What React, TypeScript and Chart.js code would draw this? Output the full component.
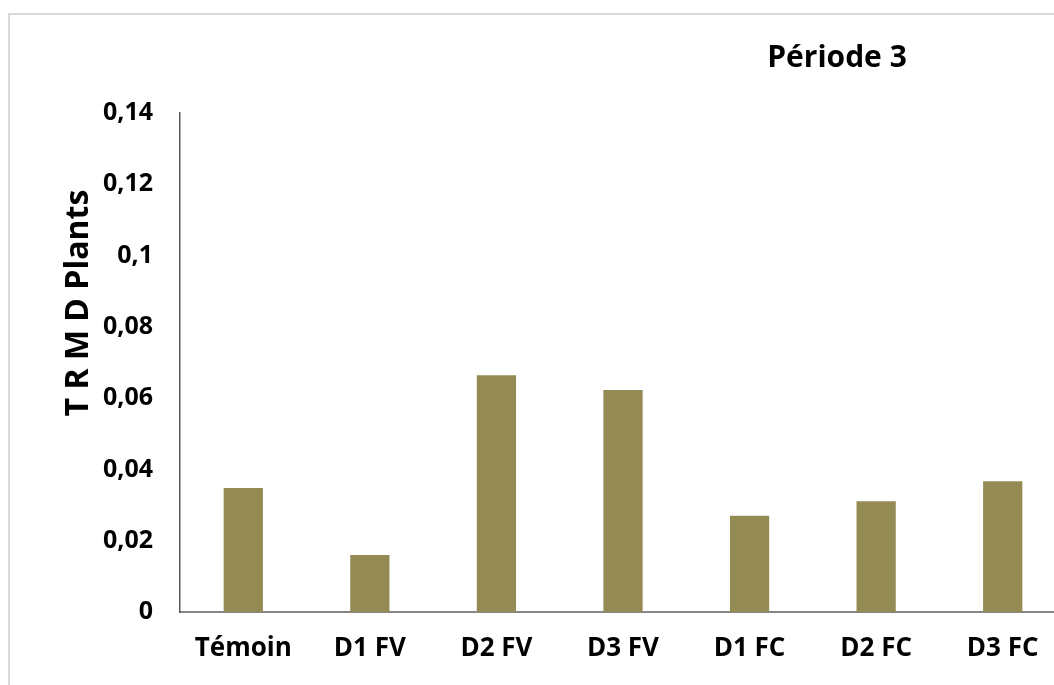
import React, { useEffect, useRef } from "react";
import { Chart, registerables } from "chart.js";

Chart.register(...registerables);

const categories = ["Témoin", "D1 FV", "D2 FV", "D3 FV", "D1 FC", "D2 FC", "D3 FC"];
const values = [0.0348, 0.016, 0.0664, 0.0623, 0.027, 0.0311, 0.0367];
const yTickLabels = ["0", "0,02", "0,04", "0,06", "0,08", "0,1", "0,12", "0,14"];
const chartTitle = "Période 3";
const yAxisTitle = "T R M D Plants";

const FONT = "'Open Sans', sans-serif";

const annotations = {
  id: "annotations",
  afterDraw(chart: any) {
    const ctx = chart.ctx;
    ctx.save();
    // outer frame
    ctx.strokeStyle = "#d9d9d9";
    ctx.lineWidth = 2;
    ctx.beginPath();
    ctx.moveTo(9, 2000);
    ctx.lineTo(9, 14);
    ctx.lineTo(2000, 14);
    ctx.stroke();
    // title
    ctx.fillStyle = "#000";
    ctx.font = `bold 30px ${FONT}`;
    ctx.textAlign = "center";
    ctx.textBaseline = "middle";
    ctx.fillText(chartTitle, 837, 58);
    // y title
    ctx.translate(79, 303);
    ctx.rotate(-Math.PI / 2);
    ctx.font = `bold 32px ${FONT}`;
    ctx.fillText(yAxisTitle, 0, 0);
    ctx.restore();
  },
};

export default function App() {
  const ref = useRef<HTMLCanvasElement>(null);
  useEffect(() => {
    if (!ref.current) return;
    const chart = new Chart(ref.current, {
      type: "bar",
      data: {
        labels: categories,
        datasets: [
          {
            data: values,
            backgroundColor: "#948A54",
            barPercentage: 0.31,
            categoryPercentage: 1,
          },
        ],
      },
      options: {
        animation: false,
        responsive: false,
        devicePixelRatio: 1,
        layout: { padding: { left: 0, top: 113, right: 34, bottom: 0 } },
        plugins: { legend: { display: false }, tooltip: { enabled: false }, title: { display: false } },
        scales: {
          x: {
            grid: { display: false, drawTicks: false },
            border: { display: true, color: "#868686", width: 2 },
            ticks: {
              color: "#000",
              padding: 21,
              font: { family: FONT, size: 26, weight: "bold" },
              maxRotation: 0,
            },
            afterFit: (s: any) => {
              s.height = 88;
            },
          },
          y: {
            min: 0,
            max: 0.14,
            grid: { display: false, drawTicks: false },
            border: { display: true, color: "#595959", width: 1.5 },
            ticks: {
              stepSize: 0.02,
              color: "#000",
              padding: 27,
              font: { family: FONT, size: 25, weight: "bold" },
              callback: (_v: any, i: number) => yTickLabels[i],
            },
            afterFit: (s: any) => {
              s.width = 180;
            },
          },
        },
      },
      plugins: [annotations],
    });
    return () => chart.destroy();
  }, []);
  return (
    <div
      style={{
        position: "fixed",
        left: 0,
        top: 0,
        width: 1054,
        height: 685,
        overflow: "hidden",
        background: "#fff",
      }}
    >
      <canvas ref={ref} width={1100} height={700} style={{ display: "block", width: 1100, height: 700 }} />
    </div>
  );
}
